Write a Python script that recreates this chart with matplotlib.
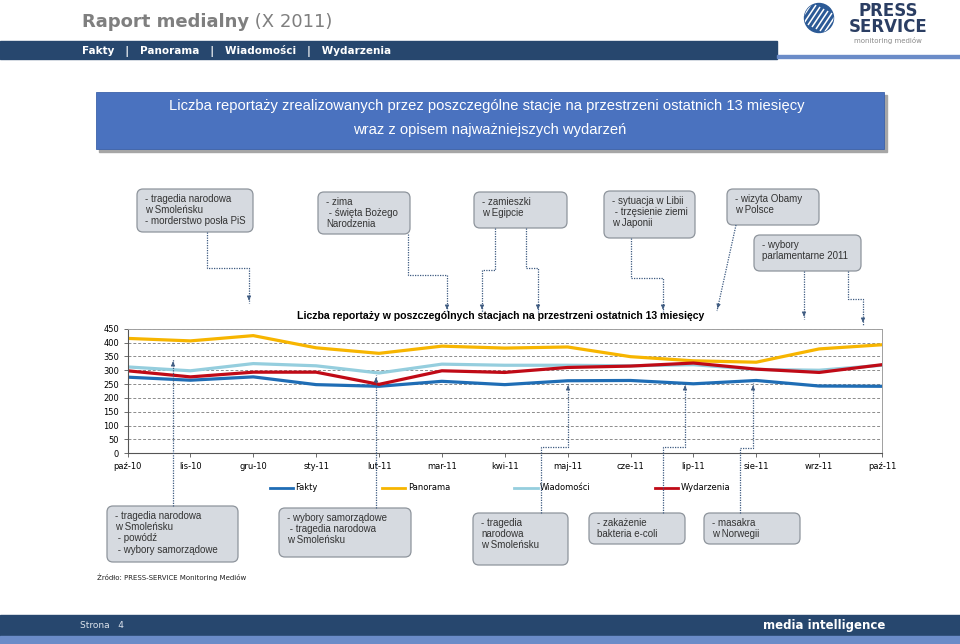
import numpy as np
import matplotlib
matplotlib.use('Agg')
import matplotlib.pyplot as plt
from matplotlib.patches import FancyBboxPatch, Rectangle, Circle

# data
months = ['paź-10', 'lis-10', 'gru-10', 'sty-11', 'lut-11', 'mar-11', 'kwi-11',
          'maj-11', 'cze-11', 'lip-11', 'sie-11', 'wrz-11', 'paź-11']
fakty = [275, 264, 276, 248, 242, 260, 248, 262, 263, 251, 263, 243, 242]
panorama = [415, 406, 425, 381, 361, 387, 380, 384, 349, 334, 329, 377, 392]
wiadomosci = [312, 298, 324, 316, 290, 322, 318, 318, 316, 320, 303, 300, 318]
wydarzenia = [298, 276, 293, 293, 249, 298, 292, 310, 315, 326, 304, 292, 320]

series_names = ['Fakty', 'Panorama', 'Wiadomości', 'Wydarzenia']
series_colors = ['#1f6db5', '#f7b500', '#95cede', '#c00a16']

top_notes = ["- tragedia narodowa\nw Smoleńsku\n- morderstwo posła PiS",
             "- zima\n - święta Bożego\nNarodzenia",
             "- zamieszki\nw Egipcie",
             "- sytuacja w Libii\n - trzęsienie ziemi\nw Japonii",
             "- wizyta Obamy\nw Polsce",
             "- wybory\nparlamentarne 2011"]
bottom_notes = ["- tragedia narodowa\nw Smoleńsku\n - powódź\n - wybory samorządowe",
                "- wybory samorządowe\n - tragedia narodowa\nw Smoleńsku",
                "- tragedia\nnarodowa\nw Smoleńsku",
                "- zakażenie\nbakteria e-coli",
                "- masakra\nw Norwegii"]

W, H = 960, 644
fig = plt.figure(figsize=(9.6, 6.44), dpi=100)
fig.patch.set_facecolor('white')

# ---- chart ----
x0, x1, ytop, ybot = 127.5, 882, 328.7, 453.3
ax = fig.add_axes([x0 / W, 1 - ybot / H, (x1 - x0) / W, (ybot - ytop) / H])
ax.set_zorder(1)
x = np.arange(len(months))
for vals, name, col in zip([fakty, panorama, wiadomosci, wydarzenia], series_names, series_colors):
    ax.plot(x, vals, color=col, lw=2.3, label=name, solid_joinstyle='round')
ax.set_xlim(0, len(months) - 1)
ax.set_ylim(0, 450)
ax.set_yticks(np.arange(0, 451, 50))
ax.set_xticks(x)
ax.set_xticklabels(months)
ax.tick_params(labelsize=6, length=3, width=0.6, color='#555555', pad=3)
for t in ax.get_xticklabels() + ax.get_yticklabels():
    t.set_family('DejaVu Sans')
ax.yaxis.grid(True, linestyle=(0, (3, 2)), color='#8c8c8c', lw=0.7)
ax.set_axisbelow(True)
for s in ['left', 'bottom']:
    ax.spines[s].set_color('#555555')
    ax.spines[s].set_linewidth(0.8)
for s in ['top', 'right']:
    ax.spines[s].set_color('#a0a0a0')
    ax.spines[s].set_linewidth(0.7)

leg = ax.legend(loc='center', bbox_to_anchor=(500 / W, 1 - 488 / H), bbox_transform=fig.transFigure,
                ncol=4, frameon=False, fontsize=6, handlelength=2.8, handletextpad=0.3,
                columnspacing=7.7)
for ln in leg.get_lines():
    ln.set_linewidth(2)

# ---- overlay in pixel coordinates ----
ov = fig.add_axes([0, 0, 1, 1])
ov.set_zorder(2)
ov.patch.set_visible(False)
ov.set_xlim(0, W)
ov.set_ylim(H, 0)
ov.axis('off')

navy = '#27476e'
light = '#6b8cc8'

# header
t1 = ov.text(82, 27, 'Raport medialny', fontsize=13, fontweight='bold', color='#7f7f7f',
             family='DejaVu Sans', va='baseline')
ov.annotate(' (X 2011)', xy=(1, 0), xycoords=t1, fontsize=13, color='#7f7f7f',
            family='DejaVu Sans', va='bottom')
ov.add_patch(Rectangle((0, 41), 777, 18, color=navy))
ov.add_patch(Rectangle((777, 54.5), W - 777, 3.5, color=light))
ov.text(82, 50.5, 'Fakty   |   Panorama   |   Wiadomości   |   Wydarzenia', fontsize=7.5,
        fontweight='bold', color='white', va='center', family='DejaVu Sans')

# logo
globe = Circle((819, 18), 14.5, color='#2c5a96')
ov.add_patch(globe)
for k in range(-3, 4):
    ov.plot([812 + k * 4, 824 + k * 4], [27 + k * 2, 9 + k * 2], color='white', lw=1.1,
            solid_capstyle='butt', clip_path=globe)
ov.text(888, 19, 'PRESS\nSERVICE', fontsize=12, fontweight='heavy', color='#2b3e63', ha='center',
        va='center', family='DejaVu Sans', linespacing=0.85)
ov.text(888, 40, 'monitoring mediów', fontsize=5, color='#8a8a8a', ha='center', va='center',
        family='DejaVu Sans')

# title banner
ov.add_patch(Rectangle((99, 95), 788, 57, color='#a6a6a6'))
ov.add_patch(Rectangle((96, 92), 788, 57, facecolor='#4a72bf', edgecolor='#3c62aa', lw=0.6))
ov.text(487, 106, 'Liczba reportaży zrealizowanych przez poszczególne stacje na przestrzeni ostatnich 13 miesięcy',
        fontsize=10.6, color='white', ha='center', va='center', family='Liberation Sans')
ov.text(490, 130, 'wraz z opisem najważniejszych wydarzeń', fontsize=10.6, color='white',
        ha='center', va='center', family='Liberation Sans')


def note(xl, yt, w, h, txt):
    ov.add_patch(FancyBboxPatch((xl, yt), w, h, boxstyle='round,pad=0,rounding_size=6',
                                facecolor='#d6dae0', edgecolor='#8e949c', lw=0.9))
    ov.text(xl + 8, yt + 5, txt, fontsize=7, color='#333333', va='top', ha='left',
            family='Liberation Sans', linespacing=1.15, clip_on=True)


top_boxes = [(137, 189, 116, 43), (318, 192, 92, 42), (474, 192, 93, 36),
             (604, 191, 91, 47), (727, 189, 92, 36), (754, 235, 107, 36)]
bottom_boxes = [(107, 506, 131, 56), (279, 508, 132, 49), (473, 513, 95, 52),
                (589, 513, 96, 31), (704, 513, 96, 31)]
for b, t in zip(top_boxes, top_notes):
    note(*b, t)
for b, t in zip(bottom_boxes, bottom_notes):
    note(*b, t)

# connectors
links = [
    [(207, 232), (207, 268), (249, 268), (249, 303)],
    [(408, 234), (408, 275), (447, 275), (447, 312)],
    [(495, 228), (495, 270), (482, 270), (482, 312)],
    [(526, 228), (526, 268), (538, 268), (538, 312)],
    [(631, 238), (631, 278), (663, 278), (663, 312)],
    [(736, 225), (717, 311)],
    [(804, 271), (804, 319)],
    [(848, 271), (848, 299), (863, 299), (863, 325)],
    [(173, 506), (173, 359)],
    [(376, 508), (376, 375)],
    [(541, 513), (541, 447), (568, 447), (568, 383)],
    [(663, 513), (663, 447), (685, 447), (685, 383)],
    [(740, 513), (740, 448), (753, 448), (753, 383)],
]
lc = '#3d5a80'
for pts in links:
    xs = [p[0] for p in pts]
    ys = [p[1] for p in pts]
    ov.plot(xs, ys, color=lc, lw=0.9, linestyle=(0, (1, 1)))
    (ax_, ay_), (bx_, by_) = pts[-2], pts[-1]
    d = np.hypot(bx_ - ax_, by_ - ay_)
    sx, sy = bx_ - (bx_ - ax_) / d * 7, by_ - (by_ - ay_) / d * 7
    ov.annotate('', xy=(bx_, by_), xytext=(sx, sy),
                arrowprops=dict(arrowstyle='-|>', color=lc, lw=0.6, mutation_scale=6))

# chart title
ov.text(501, 316, 'Liczba reportaży w poszczególnych stacjach na przestrzeni ostatnich 13 miesięcy',
        fontsize=7.6, fontweight='bold', ha='center', va='center', family='Liberation Sans')

# source
ov.text(97, 577, 'Źródło: PRESS-SERVICE Monitoring Mediów', fontsize=5, va='center',
        family='DejaVu Sans', color='#222222')

# footer
ov.add_patch(Rectangle((0, 615), W, 21, color=navy))
ov.add_patch(Rectangle((0, 636), W, 8, color=light))
ov.text(80, 625, 'Strona   4', fontsize=6.5, color='#dde3ec', va='center', family='DejaVu Sans')
ov.text(885, 625.5, 'media intelligence', fontsize=8.5, fontweight='bold', color='white',
        va='center', ha='right', family='DejaVu Sans')

fig.savefig('out.png', dpi=100)
